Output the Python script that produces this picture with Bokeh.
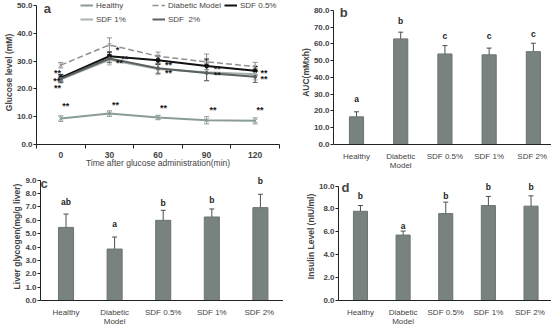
from bokeh.plotting import figure
from bokeh.layouts import column, row
from bokeh.models import (ColumnDataSource, FixedTicker, PrintfTickFormatter, Whisker,
                          TeeHead, Legend, LegendItem, Label, Range1d)
from bokeh.core.properties import value
from bokeh.embed import file_html
from bokeh.resources import INLINE

FONT = "Liberation Sans"

# ---------------- data ----------------
times = [0, 30, 60, 90, 120]
healthy = [9.3, 11.1, 9.7, 8.7, 8.5]
healthy_err = [1.0, 1.0, 0.8, 1.3, 1.1]
diabetic = [28.5, 35.8, 31.7, 29.7, 28.0]
diabetic_err = [1.0, 2.5, 1.5, 2.8, 1.5]
sdf05 = [24.0, 31.7, 30.3, 28.2, 26.5]
sdf05_err = [1.2, 1.5, 1.5, 2.5, 1.5]
sdf1 = [23.4, 30.4, 27.1, 26.0, 25.2]
sdf1_err = [1.3, 1.8, 2.0, 3.0, 2.0]
sdf2 = [23.6, 30.9, 27.4, 25.7, 24.3]
sdf2_err = [1.3, 1.5, 1.8, 2.8, 2.0]

star_x = [-2, -2.5, -2, 35, 39.4, 36.3, 66.5, 66.5, 96.6, 96.6, 125.5, 125.5,
          3.1, 33.8, 63.4, 94, 123]
star_y = [25.6, 22.8, 20.4, 34.0, 30.8, 29.4, 28.4, 25.6, 27.3, 24.9, 25.6, 23.5,
          13.7, 14.1, 13.1, 12.4, 12.4]
star_t = ["**", "**", "**", "*", "**", "**", "**", "**", "**", "**", "**", "**",
          "**", "**", "**", "**", "**"]

groups = ["Healthy", "Diabetic\nModel", "SDF 0.5%", "SDF 1%", "SDF  2%"]
gx = [0, 1, 2, 3, 4]

auc = [16.5, 63.0, 54.0, 53.5, 55.4]
auc_err = [3.0, 4.0, 5.0, 4.0, 5.0]
auc_sig = ["a", "b", "c", "c", "c"]
auc_sig_y = [27.3, 73.7, 64.7, 64.7, 65.8]

glyc = [5.47, 3.85, 6.0, 6.25, 6.95]
glyc_err = [1.0, 0.9, 0.75, 0.6, 1.0]
glyc_sig = ["ab", "a", "b", "b", "b"]
glyc_sig_y = [7.37, 5.71, 7.32, 7.51, 8.95]

ins = [7.8, 5.72, 7.6, 8.3, 8.25]
ins_err = [0.5, 0.35, 1.0, 0.8, 0.9]
ins_sig = ["b", "a", "b", "b", "b"]
ins_sig_y = [9.13, 6.48, 9.13, 9.92, 9.92]

BAR = "#78827f"
ERR = "#4a4f4e"


def style_axes(p, ytop):
    for ax in (p.xaxis[0], p.yaxis[0]):
        ax.axis_line_color = "#222222"
        ax.major_tick_line_color = "#222222"
        ax.minor_tick_line_color = "#222222"
        ax.major_label_text_font = FONT
        ax.axis_label_text_font = FONT
        ax.major_label_text_font_size = "8.5px"
        ax.axis_label_text_font_size = "8.5px"
        ax.axis_label_text_font_style = "bold"
        ax.major_tick_in = 0
        ax.minor_tick_in = 0
        ax.minor_tick_out = 0
        ax.major_label_standoff = 3
        ax.axis_label_standoff = 1
    p.yaxis[0].major_tick_out = 3
    p.yaxis[0].major_label_standoff = 1
    p.yaxis[0].axis_label_standoff = 0
    p.yaxis[0].major_label_text_font_size = "8px"
    p.yaxis[0].major_label_text_font_style = "bold"
    p.yaxis[0].bounds = (0, ytop)
    p.xgrid.visible = False
    p.ygrid.visible = False
    p.outline_line_color = None


# ---------------- panel a ----------------
pa = figure(width=283, height=172, output_backend="svg", toolbar_location=None,
            x_range=Range1d(-15, 135), y_range=Range1d(0, 51.74),
            min_border_left=35, min_border_right=4, min_border_top=0, min_border_bottom=24)
style_axes(pa, 50)
pa.xaxis[0].ticker = FixedTicker(ticks=times, minor_ticks=[-15, 15, 45, 75, 105, 135])
pa.xaxis[0].major_tick_out = 0
pa.xaxis[0].minor_tick_out = 4
pa.xaxis[0].major_label_standoff = 3
pa.xaxis[0].major_label_text_font_style = "bold"
pa.xaxis[0].axis_label = "Time after glucose administration(min)"
pa.xaxis[0].axis_label_text_font_style = "normal"
pa.xaxis[0].axis_label_standoff = -3
pa.yaxis[0].ticker = FixedTicker(ticks=[0, 10, 20, 30, 40, 50])
pa.yaxis[0].formatter = PrintfTickFormatter(format="%.1f")
pa.yaxis[0].axis_label = "Glucose level (mM)"

series = [
    ("Healthy", healthy, healthy_err, "#8a9c98", None, "x", 6),
    ("Diabetic Model", diabetic, diabetic_err, "#909090", "6 3", "x", 5),
    ("SDF 0.5%", sdf05, sdf05_err, "#111111", None, "circle", 4),
    ("SDF 1%", sdf1, sdf1_err, "#a9b1ae", None, "triangle", 4),
    ("SDF  2%", sdf2, sdf2_err, "#59625f", None, "circle", 3),
]
items = {}
for name, ys, es, col, dash, mk, ms in series:
    src = ColumnDataSource(dict(x=times, y=ys,
                                lo=[a - b for a, b in zip(ys, es)],
                                hi=[a + b for a, b in zip(ys, es)]))
    pa.add_layout(Whisker(source=src, base="x", upper="hi", lower="lo",
                          line_color=col, line_width=1,
                          upper_head=TeeHead(size=5, line_color=col, line_width=1),
                          lower_head=TeeHead(size=5, line_color=col, line_width=1)))
    lw = 1.5 if dash else 2
    r1 = pa.line("x", "y", source=src, line_color=col, line_width=lw,
                 line_dash=dash if dash else "solid")
    pa.scatter("x", "y", source=src, marker=mk, size=ms, line_color=col,
               fill_color=col)
    items[name] = [r1]

legend = Legend(items=[LegendItem(label=n, renderers=items[n]) for n, *_ in series],
                orientation="horizontal", ncols=3,
                location=(44, 118), padding=0, margin=0, spacing=0,
                glyph_width=13, glyph_height=14, label_height=14, label_standoff=3,
                label_width=56,
                label_text_font=FONT, label_text_font_size="8px",
                background_fill_alpha=0, border_line_color=None)
pa.add_layout(legend)

pa.text(x=star_x, y=star_y, text=star_t, text_font=value(FONT), text_font_size="9px",
        text_font_style="bold", text_align="center", text_baseline="middle",
        text_color="#1a1a1a")
pa.add_layout(Label(x=-8.3, y=48.8, text="a", text_font=FONT, text_font_size="13px",
                    text_font_style="bold", text_baseline="alphabetic", text_align="center"))


# ---------------- bar panels ----------------
def bar_panel(width, height, x0, x1, ytop, yend, yticks, vals, errs, sig, sig_y,
              ylabel, letter, letter_xy, bw, mb):
    p = figure(width=width, height=height, output_backend="svg", toolbar_location=None,
               x_range=Range1d(x0, x1), y_range=Range1d(0, yend),
               min_border_left=mb[0], min_border_right=mb[1],
               min_border_top=mb[2], min_border_bottom=mb[3])
    style_axes(p, ytop)
    p.xaxis[0].ticker = FixedTicker(ticks=gx)
    p.xaxis[0].major_tick_out = 0
    p.xaxis[0].major_label_standoff = 7
    p.xaxis[0].major_label_text_font_size = "8px"
    p.xaxis[0].major_label_text_line_height = 1.0
    p.xaxis[0].major_label_overrides = {i: g for i, g in zip(gx, groups)}
    p.yaxis[0].ticker = FixedTicker(ticks=yticks)
    p.yaxis[0].formatter = PrintfTickFormatter(format="%.1f")
    p.yaxis[0].axis_label = ylabel
    p.vbar(x=gx, top=vals, width=bw, fill_color=BAR, line_color="#6b7471")
    src = ColumnDataSource(dict(x=gx, lo=[a - b for a, b in zip(vals, errs)],
                                hi=[a + b for a, b in zip(vals, errs)]))
    p.add_layout(Whisker(source=src, base="x", upper="hi", lower="lo",
                         line_color=ERR, line_width=1,
                         upper_head=TeeHead(size=5, line_color=ERR, line_width=1),
                         lower_head=TeeHead(size=5, line_color=ERR, line_width=1)))
    p.text(x=gx, y=sig_y, text=sig, text_font=value(FONT), text_font_size="8.5px",
           text_font_style="bold", text_align="center", text_baseline="middle",
           text_color="#222222")
    p.add_layout(Label(x=letter_xy[0], y=letter_xy[1], text=letter, text_font=FONT,
                       text_font_size="13px", text_font_style="bold",
                       text_baseline="alphabetic", text_align="center"))
    return p


pb = bar_panel(268, 172, -0.52, 4.41, 80, 85.9, [0, 10, 20, 30, 40, 50, 60, 70, 80],
               auc, auc_err, auc_sig, auc_sig_y, "AUC(mMxh)", "b", (-0.29, 78.6),
               0.32, (50, 0, 0, 26))
pc = bar_panel(283, 156, -0.525, 4.475, 9, 9.58, [0, 1, 2, 3, 4, 5, 6, 7, 8, 9],
               glyc, glyc_err, glyc_sig, glyc_sig_y, "Liver glycogen(mg/g liver)", "c",
               (-0.45, 8.78), 0.31, (40, 0, 0, 24))
pd_ = bar_panel(268, 156, -0.515, 4.48, 10, 11.19, [0, 2, 4, 6, 8, 10],
                ins, ins_err, ins_sig, ins_sig_y, "Insulin Level (nIU/ml)", "d",
                (-0.35, 9.9), 0.33, (55, 0, 0, 24))

layout = column(row(pa, pb, spacing=0), row(pc, pd_, spacing=0), spacing=0)
open("out.html", "w").write(file_html(layout, INLINE))
